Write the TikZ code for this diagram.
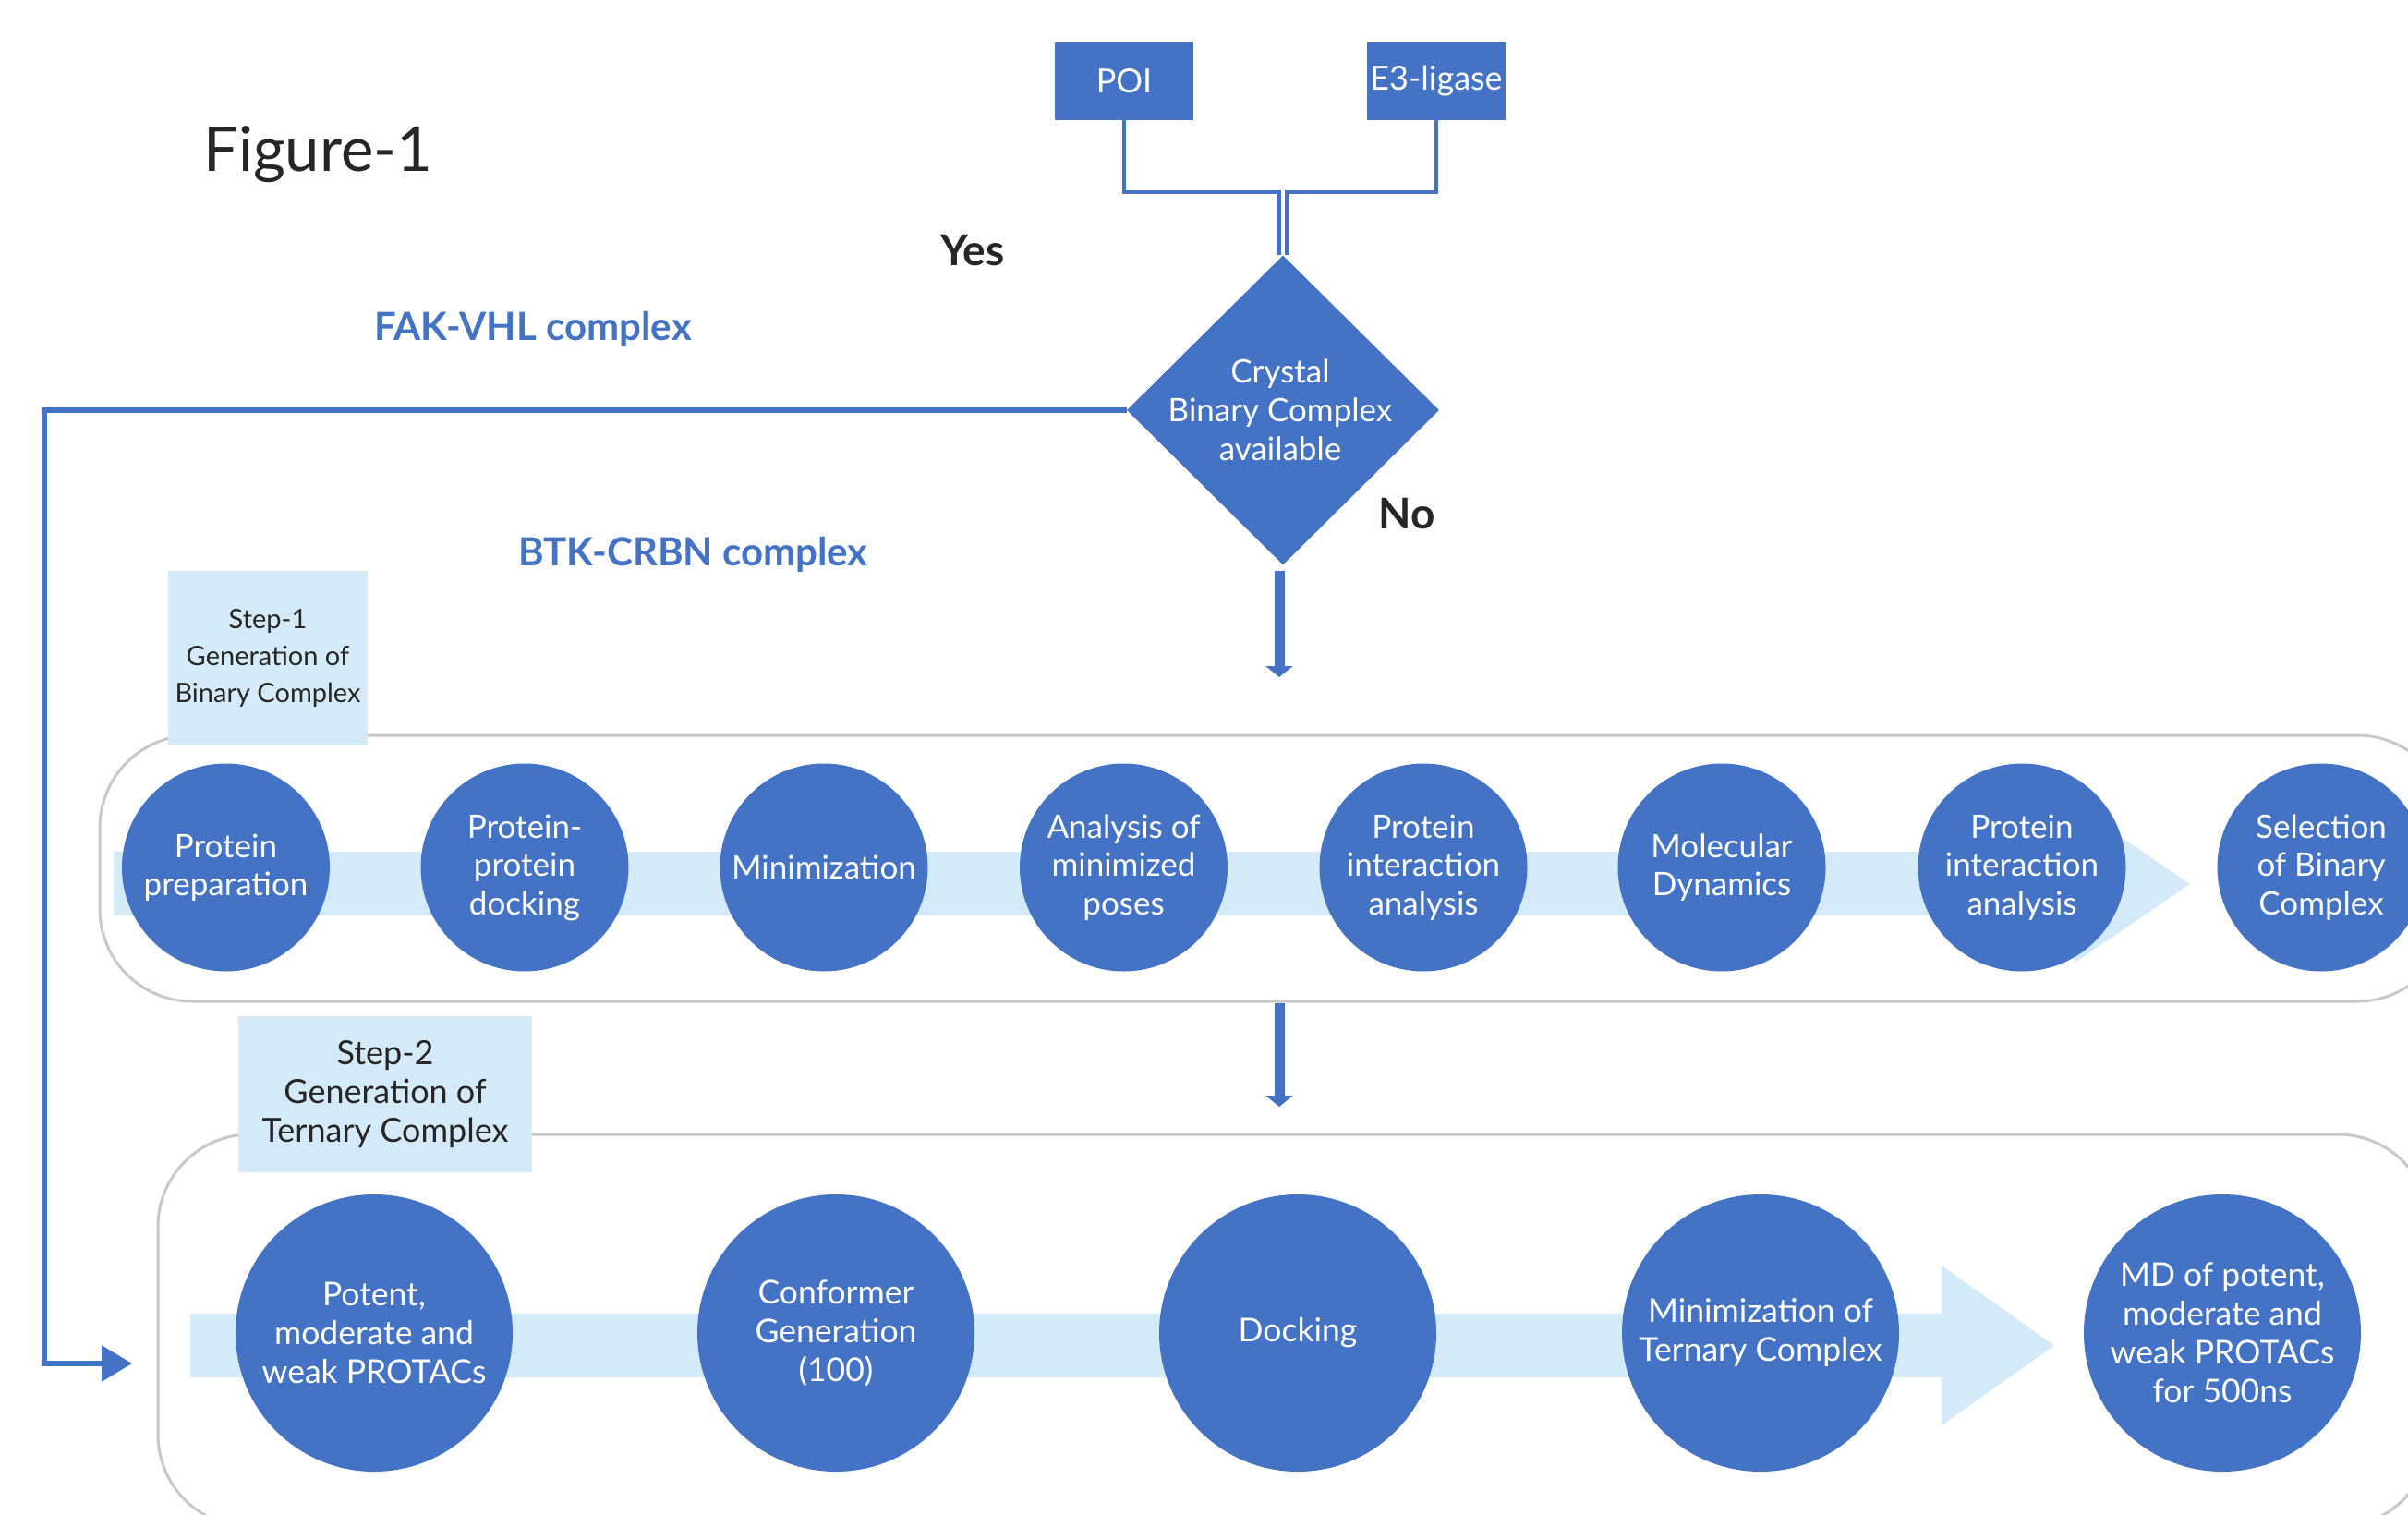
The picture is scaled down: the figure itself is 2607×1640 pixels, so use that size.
\documentclass[tikz,border=0pt]{standalone}
\usepackage{fontspec}
\setmainfont{Lato}
\usetikzlibrary{shapes.geometric,arrows.meta}
\definecolor{pblue}{HTML}{4472C4}
\definecolor{lblue}{HTML}{D5EAF9}
\definecolor{cgray}{HTML}{C8C8C8}
\definecolor{dtext}{HTML}{262626}
\tikzset{
  topbox/.style={rectangle, fill=pblue, text=white, minimum width=150pt, minimum height=84pt, inner sep=0pt, font=\fontsize{36}{42}\selectfont},
  decbox/.style={diamond, fill=pblue, minimum width=338pt, minimum height=335pt, inner sep=0pt},
  whitetext/.style={text=white, align=center, inner sep=0pt},
  stepA/.style={circle, fill=pblue, text=white, minimum size=225pt, inner sep=0pt, align=center, font=\fontsize{35}{41.5}\selectfont},
  stepB/.style={circle, fill=pblue, text=white, minimum size=300pt, inner sep=0pt, align=center, font=\fontsize{35.5}{42}\selectfont},
  container/.style={rectangle, draw=cgray, line width=3pt, rounded corners=100pt, inner sep=0pt},
  steplabel/.style={rectangle, fill=lblue, text=dtext, inner sep=0pt, align=center},
  joinline/.style={draw=pblue, line width=4.5pt},
  yesline/.style={draw=pblue, line width=6pt, -{Triangle[width=38pt,length=33pt]}},
  noarrow/.style={draw=pblue, line width=11pt, -{Triangle[width=29pt,length=12pt]}},
  bluelab/.style={text=pblue, font=\bfseries\fontsize{42}{48}\selectfont, inner sep=0pt},
  answer/.style={text=dtext, font=\bfseries\fontsize{46}{52}\selectfont, inner sep=0pt},
}
\begin{document}
\begin{tikzpicture}[x=1pt,y=-1pt]
\useasboundingbox (0,0) rectangle (2607,1640);
\clip (0,0) rectangle (2607,1640);
\fill[white] (0,0) rectangle (2607,1640);

% title
\node[anchor=base west, inner sep=0pt, text=dtext, font=\fontsize{67}{76}\selectfont] (fig) at (220,186) {Figure-1};

% top boxes
\node[topbox] (poi) at (1217,88) {POI};
\node[topbox] (e3) at (1555,88) {E3-ligase};

% decision
\node[decbox] (dec) at (1389,444) {};
\node[whitetext, font=\fontsize{35}{42}\selectfont] (dectext) at ([xshift=-3pt]dec.center) {Crystal\\Binary Complex\\available};

\coordinate (jn) at (1389,208);
\draw[joinline] (poi.south) |- ([xshift=-4.5pt]jn) -- ([xshift=-4.5pt]dec.north);
\draw[joinline] (e3.south) |- ([xshift=4.5pt]jn) -- ([xshift=4.5pt]dec.north);

% labels
\node[answer, anchor=base] (yes) at (1053,287) {Yes};
\node[answer, anchor=base] (no) at (1523,572) {No};
\node[bluelab, anchor=base west] (fak) at (405,368) {FAK-VHL complex};
\node[bluelab, anchor=base west] (btk) at (561,612) {BTK-CRBN complex};

% containers
\node[container, minimum width=2544pt, minimum height=288pt] (c1) at (1380,940) {};
\node[container, minimum width=2460pt, minimum height=425pt] (c2) at (1401,1440.5) {};

% step labels
\node[steplabel, minimum width=216pt, minimum height=189pt, font=\fontsize{29}{40}\selectfont] (lab1) at (290,712.5) {Step-1\\Generation of\\Binary Complex};
\node[steplabel, minimum width=318pt, minimum height=169pt, font=\fontsize{36}{42}\selectfont] (lab2) at (417,1184.5) {Step-2\\Generation of\\Ternary Complex};

% bands
\fill[lblue] (123,922) -- (2245,922) -- (2245,871) -- (2371,957) -- (2245,1043) -- (2245,991) -- (123,991) -- cycle;
\fill[lblue] (206,1422) -- (2102,1422) -- (2102,1370) -- (2224,1456.5) -- (2102,1543) -- (2102,1491) -- (206,1491) -- cycle;

% step 1 circles
\node[stepA] (a1) at (244.5,939) {Protein\\preparation};
\node[stepA] (a2) at (568,939) {Protein-\\protein\\docking};
\node[stepA] (a3) at (892,939) {Minimization};
\node[stepA] (a4) at (1216.5,939) {Analysis of\\minimized\\poses};
\node[stepA] (a5) at (1541,939) {Protein\\interaction\\analysis};
\node[stepA] (a6) at (1864,939) {Molecular\\Dynamics};
\node[stepA] (a7) at (2189,939) {Protein\\interaction\\analysis};
\node[stepA] (a8) at (2513,939) {Selection\\of Binary\\Complex};

% step 2 circles
\node[stepB] (b1) at (405,1443) {Potent,\\moderate and\\weak PROTACs};
\node[stepB] (b2) at (905,1443) {Conformer\\Generation\\(100)};
\node[stepB] (b3) at (1405,1443) {Docking};
\node[stepB] (b4) at (1906,1443) {Minimization of\\Ternary Complex};
\node[stepB] (b5) at (2406,1443) {MD of potent,\\moderate and\\weak PROTACs\\for 500ns};

% connectors
\coordinate (ycorner) at (48,1476);
\coordinate (yesend) at (143,1476);
\draw[yesline] (dec.west) -| (ycorner) -- (yesend);

\coordinate (noend) at (1385,733);
\draw[noarrow] ([xshift=-4pt,yshift=-6pt]dec.south) -- (noend);
\coordinate (step2end) at (1385,1198);
\draw[noarrow] (c1.south -| noend) -- (step2end);
\end{tikzpicture}
\end{document}
